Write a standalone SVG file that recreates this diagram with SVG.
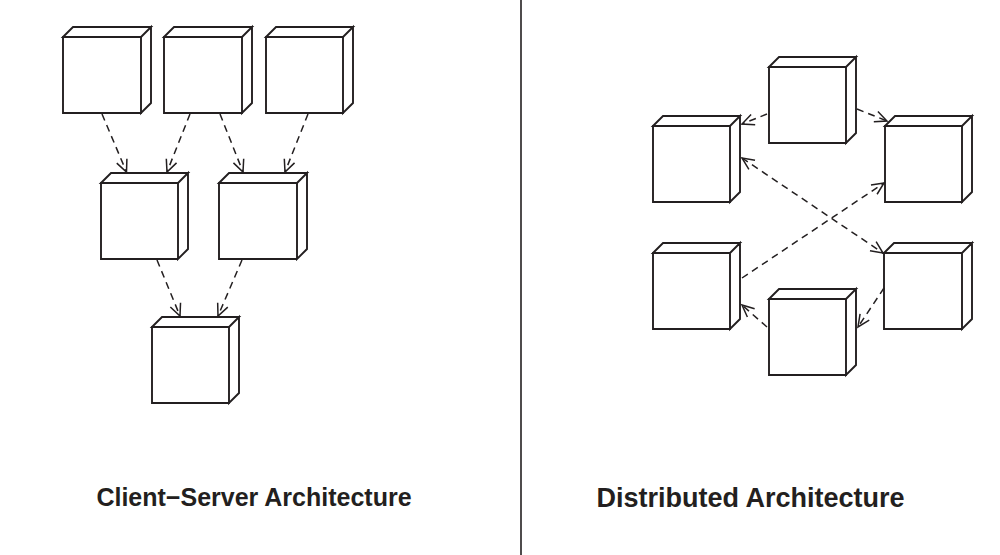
<svg xmlns="http://www.w3.org/2000/svg" width="1000" height="555" viewBox="0 0 1000 555">
<style>
.box path{fill:#fff;stroke:#231f20;stroke-width:1.9;stroke-linejoin:miter}
.conn line{stroke:#231f20;stroke-width:1.5;stroke-dasharray:7 5;fill:none}
.lbl{font-family:"Liberation Sans",Arial,sans-serif;font-weight:bold;fill:#231f20;text-anchor:middle}
</style>
<defs>
<marker id="arr" viewBox="-14 -8 16 16" refX="0" refY="0" markerWidth="16" markerHeight="16" markerUnits="userSpaceOnUse" orient="auto-start-reverse">
<path d="M-12,-5.5 L0,0 L-12,5.5" fill="none" stroke="#231f20" stroke-width="1.5"/>
</marker>
</defs>
<rect width="1000" height="555" fill="#fff"/>
<line x1="521" y1="0" x2="521" y2="555" stroke="#231f20" stroke-width="1.6"/>

<g id="cs-a1" class="box" transform="translate(63,37)"><path d="M0,0 L10,-10 L88,-10 L78,0 Z M78,0 L88,-10 L88,66 L78,76 Z M0,0 H78 V76 H0 Z"/></g>
<g id="cs-a2" class="box" transform="translate(164,37)"><path d="M0,0 L10,-10 L88,-10 L78,0 Z M78,0 L88,-10 L88,66 L78,76 Z M0,0 H78 V76 H0 Z"/></g>
<g id="cs-a3" class="box" transform="translate(266,37)"><path d="M0,0 L10,-10 L87,-10 L77,0 Z M77,0 L87,-10 L87,66 L77,76 Z M0,0 H77 V76 H0 Z"/></g>
<g id="cs-b1" class="box" transform="translate(101,183)"><path d="M0,0 L10,-10 L87,-10 L77,0 Z M77,0 L87,-10 L87,66 L77,76 Z M0,0 H77 V76 H0 Z"/></g>
<g id="cs-b2" class="box" transform="translate(219,183)"><path d="M0,0 L10,-10 L88,-10 L78,0 Z M78,0 L88,-10 L88,66 L78,76 Z M0,0 H78 V76 H0 Z"/></g>
<g id="cs-c" class="box" transform="translate(152,327)"><path d="M0,0 L10,-10 L87,-10 L77,0 Z M77,0 L87,-10 L87,66 L77,76 Z M0,0 H77 V76 H0 Z"/></g>

<g id="d-top" class="box" transform="translate(769,67)"><path d="M0,0 L10,-10 L87,-10 L77,0 Z M77,0 L87,-10 L87,66 L77,76 Z M0,0 H77 V76 H0 Z"/></g>
<g id="d-ul" class="box" transform="translate(653,126)"><path d="M0,0 L10,-10 L87,-10 L77,0 Z M77,0 L87,-10 L87,66 L77,76 Z M0,0 H77 V76 H0 Z"/></g>
<g id="d-ur" class="box" transform="translate(885,126)"><path d="M0,0 L10,-10 L87,-10 L77,0 Z M77,0 L87,-10 L87,66 L77,76 Z M0,0 H77 V76 H0 Z"/></g>
<g id="d-ll" class="box" transform="translate(653,253)"><path d="M0,0 L10,-10 L87,-10 L77,0 Z M77,0 L87,-10 L87,66 L77,76 Z M0,0 H77 V76 H0 Z"/></g>
<g id="d-lr" class="box" transform="translate(884,253)"><path d="M0,0 L10,-10 L88,-10 L78,0 Z M78,0 L88,-10 L88,66 L78,76 Z M0,0 H78 V76 H0 Z"/></g>
<g id="d-bot" class="box" transform="translate(769,299)"><path d="M0,0 L10,-10 L87,-10 L77,0 Z M77,0 L87,-10 L87,66 L77,76 Z M0,0 H77 V76 H0 Z"/></g>

<g id="connectors" class="conn">
<line x1="102" y1="114" x2="126.5" y2="172" marker-end="url(#arr)"/>
<line x1="190" y1="114" x2="167" y2="172" marker-end="url(#arr)"/>
<line x1="220" y1="114" x2="243" y2="172" marker-end="url(#arr)"/>
<line x1="308" y1="114" x2="285" y2="172" marker-end="url(#arr)"/>
<line x1="157" y1="260" x2="180" y2="316" marker-end="url(#arr)"/>
<line x1="242" y1="260" x2="218" y2="316" marker-end="url(#arr)"/>
<line x1="767" y1="114" x2="742" y2="124" marker-end="url(#arr)"/>
<line x1="857" y1="109" x2="887" y2="121" marker-end="url(#arr)"/>
<line x1="742" y1="158" x2="883" y2="253" marker-start="url(#arr)" marker-end="url(#arr)"/>
<line x1="742" y1="278" x2="884" y2="183" marker-end="url(#arr)"/>
<line x1="767" y1="327" x2="742" y2="305" marker-end="url(#arr)"/>
<line x1="884" y1="288" x2="858" y2="327" marker-end="url(#arr)"/>
</g>

<text class="lbl" x="254" y="506" font-size="25">Client−Server Architecture</text>
<text class="lbl" x="750.5" y="507" font-size="27">Distributed Architecture</text>
</svg>
